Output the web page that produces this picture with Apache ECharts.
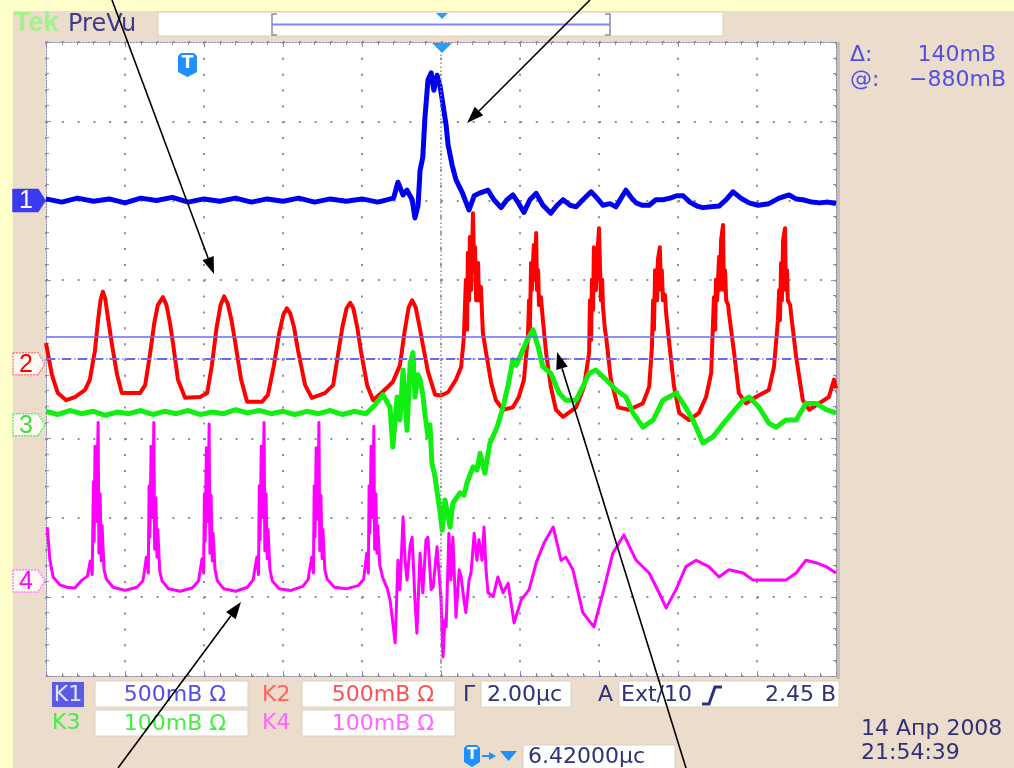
<!DOCTYPE html>
<html>
<head>
<meta charset="utf-8">
<title>Tek PreVu</title>
<script src="https://cdn.jsdelivr.net/npm/echarts@6/dist/echarts.min.js"></script>
<style>
  html, body { margin: 0; padding: 0; background: #ffffcc; }
  #chart { width: 1014px; height: 768px; }
</style>
</head>
<body>
<div id="chart"></div>
<script>
// x: time in μs (2 μs/div, trigger at 0), y: screen divisions from centre
const ch1Trace = [
  [-10.0, 2.02], [-9.6, 1.98], [-9.2, 2.03], [-8.8, 1.99], [-8.4, 2.02], [-8.0, 1.97], [-7.6, 2.03], [-7.2, 2.00],
  [-6.8, 2.04], [-6.4, 1.98], [-6.0, 2.02], [-5.6, 1.99], [-5.2, 2.03], [-4.8, 1.98], [-4.4, 2.02], [-4.0, 1.99],
  [-3.6, 2.03], [-3.2, 1.98], [-2.8, 2.02], [-2.4, 1.99], [-2.0, 2.02], [-1.6, 1.98], [-1.2, 2.03],
  [-1.09, 2.23], [-0.96, 2.07], [-0.86, 2.13], [-0.73, 2.01], [-0.66, 1.78], [-0.58, 1.94], [-0.53, 2.38],
  [-0.46, 2.55], [-0.41, 3.02], [-0.33, 3.52], [-0.25, 3.61], [-0.18, 3.39], [-0.10, 3.58], [-0.03, 3.46],
  [0.05, 3.21], [0.13, 2.95], [0.18, 2.70], [0.28, 2.45], [0.38, 2.26], [0.53, 2.11], [0.71, 1.88], [0.84, 2.06],
  [0.96, 2.09], [1.19, 2.13], [1.34, 2.01], [1.52, 1.91], [1.67, 2.01], [1.82, 2.07], [1.97, 1.96], [2.10, 1.85],
  [2.25, 2.01], [2.41, 2.09], [2.58, 1.94], [2.78, 1.84], [2.94, 1.94], [3.09, 2.01], [3.27, 1.94], [3.42, 1.92],
  [3.59, 2.01], [3.80, 2.11], [3.95, 2.03], [4.10, 1.94], [4.28, 1.96], [4.43, 1.92], [4.56, 2.03], [4.68, 2.13],
  [4.81, 2.04], [4.94, 1.97], [5.09, 1.94], [5.27, 1.94], [5.44, 2.01], [5.62, 2.01], [5.80, 2.03], [5.97, 2.06],
  [6.13, 2.06], [6.30, 1.98], [6.48, 1.93], [6.63, 1.91], [6.84, 1.92], [7.04, 1.93], [7.22, 2.01], [7.39, 2.11],
  [7.59, 2.03], [7.80, 1.97], [8.03, 1.94], [8.30, 1.96], [8.56, 2.03], [8.81, 2.07], [8.99, 2.02], [9.16, 2.01],
  [9.39, 1.98], [9.59, 1.97], [9.80, 1.98], [10.0, 1.96]
];

const ch2Trace = [
  [-10.0, 0.20], [-9.85, -0.20], [-9.70, -0.43], [-9.49, -0.52], [-9.27, -0.48], [-9.01, -0.39], [-8.89, -0.26],
  [-8.76, 0.11], [-8.68, 0.50], [-8.62, 0.74], [-8.56, 0.85], [-8.50, 0.76], [-8.44, 0.55], [-8.33, 0.18],
  [-8.20, -0.20], [-8.08, -0.43], [-7.87, -0.43], [-7.62, -0.43], [-7.49, -0.33],
  [-7.37, 0.05], [-7.26, 0.45], [-7.17, 0.68], [-7.04, 0.78], [-6.95, 0.68], [-6.86, 0.45], [-6.78, 0.18],
  [-6.66, -0.26], [-6.48, -0.49], [-6.10, -0.48], [-5.92, -0.43],
  [-5.80, -0.08], [-5.68, 0.40], [-5.58, 0.68], [-5.49, 0.79], [-5.40, 0.70], [-5.30, 0.48], [-5.22, 0.24],
  [-5.06, -0.26], [-4.91, -0.54], [-4.53, -0.54], [-4.38, -0.45],
  [-4.23, -0.08], [-4.10, 0.32], [-3.99, 0.56], [-3.90, 0.64], [-3.82, 0.58], [-3.72, 0.40], [-3.62, 0.11],
  [-3.44, -0.33], [-3.27, -0.49], [-2.94, -0.43], [-2.73, -0.33],
  [-2.61, 0.05], [-2.49, 0.42], [-2.39, 0.64], [-2.30, 0.71], [-2.22, 0.64], [-2.12, 0.40], [-2.03, 0.11],
  [-1.87, -0.33], [-1.72, -0.52], [-1.47, -0.41], [-1.22, -0.29],
  [-1.04, -0.08], [-0.92, 0.35], [-0.82, 0.65], [-0.73, 0.74], [-0.64, 0.65], [-0.54, 0.40], [-0.46, 0.18],
  [-0.33, -0.16], [-0.15, -0.45], [0.0, -0.46],
  [0.18, -0.42], [0.38, -0.26], [0.51, -0.10], [0.58, 0.28], [0.63, 1.00], [0.66, 0.37], [0.68, 1.34], [0.71, 0.74],
  [0.73, 1.54], [0.76, 0.87], [0.81, 1.84], [0.84, 1.12], [0.86, 1.41], [0.89, 0.74], [0.94, 1.21], [0.96, 0.74],
  [1.01, 0.91], [1.06, 0.33], [1.14, 0.08], [1.27, -0.30], [1.39, -0.52], [1.57, -0.64], [1.82, -0.61],
  [1.97, -0.48], [2.10, -0.26], [2.20, 0.28],
  [2.23, 0.74], [2.25, 0.37], [2.28, 1.21], [2.30, 0.87], [2.35, 1.44], [2.38, 1.00], [2.41, 1.59], [2.43, 0.87],
  [2.46, 1.12], [2.48, 0.68], [2.53, 0.78], [2.58, 0.49], [2.66, 0.08], [2.78, -0.35], [2.91, -0.64], [3.09, -0.73],
  [3.42, -0.61], [3.62, -0.35], [3.75, 0.08],
  [3.77, 0.74], [3.80, 0.24], [3.82, 1.00], [3.85, 0.62], [3.87, 1.41], [3.92, 0.87], [3.95, 1.25], [4.00, 1.65],
  [4.03, 1.09], [4.05, 0.74], [4.08, 1.00], [4.10, 0.66], [4.15, 0.37], [4.18, 0.28], [4.30, -0.26], [4.48, -0.61],
  [4.76, -0.64], [5.11, -0.56], [5.27, -0.35], [5.34, 0.15],
  [5.37, 0.74], [5.39, 0.37], [5.42, 1.12], [5.47, 0.74], [5.49, 1.25], [5.54, 1.41], [5.57, 0.87], [5.59, 1.12],
  [5.62, 0.74], [5.67, 0.81], [5.70, 0.58], [5.77, 0.24], [5.90, -0.35], [6.03, -0.68], [6.28, -0.77],
  [6.53, -0.68], [6.71, -0.48], [6.84, -0.18], [6.91, 0.78],
  [6.94, 0.37], [6.96, 1.00], [6.99, 0.74], [7.04, 1.29], [7.06, 0.87], [7.09, 1.50], [7.14, 1.69], [7.16, 0.87],
  [7.19, 1.12], [7.22, 0.74], [7.27, 0.68], [7.29, 0.58], [7.42, 0.08], [7.54, -0.43], [7.72, -0.56],
  [7.97, -0.48], [8.30, -0.39], [8.43, -0.10], [8.53, 0.49],
  [8.56, 0.87], [8.58, 0.49], [8.61, 1.21], [8.63, 0.74], [8.66, 1.50], [8.71, 1.65], [8.73, 0.87], [8.76, 1.12],
  [8.78, 0.74], [8.84, 0.68], [8.86, 0.58], [8.99, 0.03], [9.16, -0.52], [9.32, -0.64], [9.57, -0.56],
  [9.82, -0.48], [9.95, -0.26], [10.0, -0.37]
];

const ch3Trace = [
  [-10.0, -0.66], [-9.7, -0.70], [-9.4, -0.65], [-9.1, -0.69], [-8.8, -0.66], [-8.5, -0.71], [-8.2, -0.67],
  [-7.9, -0.69], [-7.6, -0.65], [-7.3, -0.70], [-7.0, -0.66], [-6.7, -0.69], [-6.4, -0.65], [-6.1, -0.70],
  [-5.8, -0.67], [-5.5, -0.69], [-5.2, -0.64], [-4.9, -0.68], [-4.6, -0.65], [-4.3, -0.69], [-4.0, -0.66],
  [-3.7, -0.70], [-3.4, -0.66], [-3.1, -0.69], [-2.8, -0.65], [-2.5, -0.70], [-2.2, -0.66], [-1.9, -0.69],
  [-1.67, -0.58], [-1.47, -0.45], [-1.29, -0.61], [-1.22, -1.11], [-1.11, -0.48], [-1.04, -0.77], [-0.96, -0.14],
  [-0.91, -0.52], [-0.86, -0.90], [-0.78, -0.05], [-0.71, 0.08], [-0.66, -0.48], [-0.58, -0.20], [-0.53, -0.26],
  [-0.46, -0.45], [-0.41, -0.68], [-0.33, -0.98], [-0.28, -0.83], [-0.23, -1.31], [-0.15, -1.49], [-0.08, -1.74],
  [-0.03, -1.91], [0.03, -2.16], [0.10, -1.78], [0.23, -2.12], [0.30, -1.82], [0.48, -1.69], [0.58, -1.72],
  [0.66, -1.56], [0.81, -1.36], [0.91, -1.40], [0.99, -1.19], [1.11, -1.44], [1.24, -1.06], [1.42, -0.86],
  [1.57, -0.61], [1.70, -0.33], [1.82, -0.01], [1.90, -0.08], [2.00, 0.03], [2.18, 0.24], [2.33, 0.37],
  [2.46, 0.15], [2.58, -0.10], [2.78, -0.18], [2.99, -0.43], [3.16, -0.52], [3.42, -0.52], [3.59, -0.35],
  [3.75, -0.18], [3.92, -0.14], [4.18, -0.26], [4.43, -0.39], [4.68, -0.48], [4.86, -0.68], [5.11, -0.86],
  [5.37, -0.77], [5.62, -0.52], [5.95, -0.43], [6.13, -0.56], [6.38, -0.77], [6.63, -1.06], [6.89, -0.98],
  [7.22, -0.77], [7.65, -0.52], [7.80, -0.48], [8.05, -0.61], [8.30, -0.81], [8.48, -0.86], [8.73, -0.77],
  [8.99, -0.77], [9.24, -0.56], [9.49, -0.56], [9.75, -0.64], [10.0, -0.68]
];

const ch4Trace = [
  [-9.97, -2.12], [-9.90, -2.54], [-9.82, -2.75], [-9.65, -2.85], [-9.47, -2.88], [-9.27, -2.89], [-9.09, -2.79],
  [-8.95, -2.74], [-8.88, -2.55], [-8.83, -2.72], [-8.80, -1.55], [-8.78, -2.30], [-8.76, -1.10], [-8.73, -2.05],
  [-8.71, -1.60], [-8.68, -0.80], [-8.66, -2.45], [-8.63, -1.70], [-8.60, -2.55], [-8.58, -2.10], [-8.53, -2.66],
  [-8.47, -2.78], [-8.30, -2.88], [-8.00, -2.92], [-7.70, -2.88], [-7.55, -2.80],
  [-7.52, -2.72], [-7.46, -2.50], [-7.41, -2.70], [-7.39, -1.60], [-7.37, -2.25], [-7.34, -1.10], [-7.32, -2.00],
  [-7.29, -1.55], [-7.27, -0.80], [-7.25, -2.40], [-7.22, -1.75], [-7.19, -2.50], [-7.17, -2.15], [-7.12, -2.68],
  [-7.06, -2.80], [-6.90, -2.90], [-6.60, -2.93], [-6.30, -2.89], [-6.14, -2.80],
  [-6.12, -2.74], [-6.05, -2.52], [-6.01, -2.70], [-5.99, -1.70], [-5.97, -2.30], [-5.94, -1.12], [-5.92, -2.05],
  [-5.89, -1.60], [-5.87, -0.82], [-5.85, -2.45], [-5.82, -1.72], [-5.79, -2.55], [-5.77, -2.20], [-5.72, -2.66],
  [-5.66, -2.80], [-5.50, -2.90], [-5.20, -2.93], [-4.90, -2.88], [-4.75, -2.78],
  [-4.73, -2.70], [-4.66, -2.50], [-4.62, -2.72], [-4.60, -1.60], [-4.58, -2.28], [-4.55, -1.10], [-4.53, -2.00],
  [-4.50, -1.55], [-4.48, -0.80], [-4.46, -2.42], [-4.43, -1.70], [-4.40, -2.52], [-4.38, -2.15], [-4.33, -2.66],
  [-4.27, -2.80], [-4.10, -2.90], [-3.80, -2.92], [-3.50, -2.87], [-3.36, -2.78],
  [-3.34, -2.70], [-3.27, -2.50], [-3.23, -2.70], [-3.21, -1.60], [-3.19, -2.25], [-3.16, -1.12], [-3.14, -2.02],
  [-3.11, -1.55], [-3.09, -0.80], [-3.07, -2.42], [-3.04, -1.72], [-3.01, -2.52], [-2.99, -2.15], [-2.94, -2.66],
  [-2.88, -2.78], [-2.70, -2.88], [-2.40, -2.90], [-2.10, -2.86], [-1.96, -2.78],
  [-1.94, -2.70], [-1.88, -2.45], [-1.84, -2.70], [-1.82, -1.60], [-1.80, -2.20], [-1.77, -1.10], [-1.75, -2.00],
  [-1.72, -1.55], [-1.70, -0.85], [-1.68, -2.40], [-1.65, -1.70], [-1.62, -2.45], [-1.60, -2.10], [-1.55, -2.60],
  [-1.48, -2.75], [-1.40, -2.85],
  [-1.37, -2.88], [-1.29, -3.04], [-1.16, -3.58], [-1.09, -2.54], [-1.04, -2.91], [-0.96, -1.99], [-0.91, -2.54],
  [-0.86, -2.79], [-0.78, -2.35], [-0.73, -2.25], [-0.66, -3.04], [-0.61, -3.46], [-0.53, -2.45], [-0.46, -2.95],
  [-0.38, -2.28], [-0.33, -2.25], [-0.25, -2.91], [-0.20, -2.88], [-0.10, -2.37], [-0.05, -2.70], [0.0, -3.04],
  [0.05, -3.76], [0.10, -3.29], [0.13, -3.38], [0.20, -2.20], [0.25, -2.79], [0.30, -2.25], [0.38, -3.26],
  [0.46, -2.66], [0.51, -2.75], [0.58, -3.04], [0.63, -3.20], [0.71, -2.79], [0.76, -2.70], [0.84, -2.20],
  [0.91, -2.54], [0.96, -2.28], [1.04, -2.54], [1.09, -2.12], [1.14, -2.66], [1.19, -2.95], [1.32, -3.00],
  [1.44, -2.75], [1.57, -2.95], [1.70, -2.83], [1.85, -3.33], [2.03, -3.04], [2.23, -2.91], [2.41, -2.57],
  [2.61, -2.32], [2.84, -2.12], [3.04, -2.54], [3.16, -2.50], [3.34, -2.66], [3.59, -3.20], [3.87, -3.38],
  [4.10, -2.95], [4.35, -2.45], [4.63, -2.22], [4.94, -2.54], [5.27, -2.70], [5.52, -2.95], [5.70, -3.14],
  [5.95, -2.91], [6.20, -2.62], [6.46, -2.54], [6.78, -2.62], [7.04, -2.75], [7.29, -2.66], [7.65, -2.70],
  [7.90, -2.79], [8.30, -2.79], [8.73, -2.79], [8.99, -2.70], [9.24, -2.54], [9.49, -2.57], [9.75, -2.62],
  [10.0, -2.70]
];

const channelLabels = ['1', '2', '3', '4'];
const channelColors = ['#0000f0', '#ff0000', '#11ee11', '#ff00ff'];
const channelOffsets = [2.0, -0.06, -0.83, -2.80];
const cursorLevels = [0.28, 0];

const gridColor = '#8c8ca8';
const navy = '#303078';
const font = '"DejaVu Sans", sans-serif';

const chart = echarts.init(document.getElementById('chart'));

function trace(data, color, width) {
  return {
    type: 'line', data: data, showSymbol: false, symbol: 'none', silent: true,
    lineStyle: { color: color, width: width, join: 'round' }
  };
}

function frameAxis(position, isX) {
  return {
    type: 'value', position: position,
    min: isX ? -10 : -4, max: isX ? 10 : 4, interval: isX ? 2 : 1,
    axisLabel: { show: false },
    axisLine: { show: true, onZero: false, lineStyle: { color: gridColor, width: 1, type: [1.5, 1.5] } },
    axisTick: { show: true, inside: true, length: 5, lineStyle: { color: gridColor } },
    minorTick: { show: true, splitNumber: 5, length: 3, lineStyle: { color: gridColor } },
    splitLine: {
      show: position === 'bottom' || position === 'left',
      lineStyle: { color: gridColor, width: 2, type: isX ? [2, 13.85] : [2, 13.8] }
    }
  };
}

chart.setOption({
  animation: false,
  backgroundColor: '#ffffcc',
  grid: { left: 46, top: 42, width: 790, height: 634, show: true, backgroundColor: '#ffffff', borderWidth: 0, outerBoundsMode: 'none' },
  xAxis: [frameAxis('bottom', true), frameAxis('top', true)],
  yAxis: [frameAxis('left', false), frameAxis('right', false)],
  series: [
    {
      type: 'line', data: [], silent: true,
      markLine: {
        symbol: 'none', silent: true, animation: false, label: { show: false },
        data: [
          { xAxis: 0, lineStyle: { color: gridColor, width: 1.5, type: [1.5, 2.5] } },
          { yAxis: 0, lineStyle: { color: gridColor, width: 1.5, type: [1.5, 2.5] } }
        ]
      }
    },
    trace(ch1Trace, channelColors[0], 5),
    trace(ch2Trace, channelColors[1], 4),
    trace(ch3Trace, channelColors[2], 5),
    trace(ch4Trace, channelColors[3], 3),
    {
      type: 'line', data: [], silent: true,
      markLine: {
        symbol: 'none', silent: true, animation: false, label: { show: false },
        data: [
          { yAxis: cursorLevels[0], lineStyle: { color: '#6a6af2', width: 1.5, type: 'solid' } },
          { yAxis: cursorLevels[1], lineStyle: { color: '#6a6af2', width: 2, type: [9, 7] } }
        ]
      }
    }
  ]
});

// ---- instrument chrome drawn with graphic elements ----
function txt(x, y, text, color, size, opts) {
  opts = opts || {};
  return {
    type: 'text', x: x, y: y, z: 50,
    style: {
      text: text, fill: color, font: (opts.weight || 'normal') + ' ' + size + 'px ' + (opts.family || font),
      align: opts.align || 'left', verticalAlign: 'middle'
    }
  };
}

function box(x, y, w, h) {
  return { type: 'rect', z: 40, shape: { x: x, y: y, width: w, height: h }, style: { fill: '#ffffff', stroke: '#ddd0bc', lineWidth: 1 } };
}

function badge(x, y, w, h) {
  return {
    type: 'group', x: x, y: y, z: 60,
    children: [
      { type: 'polygon', shape: { points: [[0, 3], [3, 0], [w - 3, 0], [w, 3], [w, h - 5], [w / 2, h], [0, h - 5]] }, style: { fill: '#1e8fff' } },
      { type: 'text', x: w / 2, y: h / 2 - 1, style: { text: 'T', fill: '#ffffff', font: 'bold ' + Math.round(h * 0.7) + 'px ' + font, align: 'center', verticalAlign: 'middle' } }
    ]
  };
}

function arrow(x1, y1, x2, y2) {
  const ang = Math.atan2(y2 - y1, x2 - x1);
  const len = 17, half = 6;
  const bx = x2 - len * Math.cos(ang), by = y2 - len * Math.sin(ang);
  const px = -Math.sin(ang) * half, py = Math.cos(ang) * half;
  return [
    { type: 'line', z: 90, shape: { x1: x1, y1: y1, x2: bx, y2: by }, style: { stroke: '#000', lineWidth: 1.6 } },
    { type: 'polygon', z: 90, shape: { points: [[x2, y2], [bx + px, by + py], [bx - px, by - py]] }, style: { fill: '#000' } }
  ];
}

function chanTab(i) {
  const py = chart.convertToPixel({ yAxisIndex: 0 }, channelOffsets[i]);
  const filled = i === 0;
  const c = channelColors[i];
  const soft = ['#3a3af0', '#ff8080', '#60f060', '#ff80ff'][i];
  return {
    type: 'group', x: 13, y: py, z: 60,
    children: [
      {
        type: 'polygon', shape: { points: [[0, -11], [25, -11], [32, 0], [25, 11], [0, 11]] },
        style: { fill: filled ? soft : '#fffaf4', stroke: soft, lineWidth: 1.5, lineDash: filled ? null : [2, 1] }
      },
      { type: 'text', x: 13, y: 1, style: { text: channelLabels[i], fill: filled ? '#ffffff' : (i === 2 ? '#44dd44' : c), font: '25px "Liberation Sans", sans-serif', align: 'center', verticalAlign: 'middle' } }
    ]
  };
}

const graphic = [
  { type: 'rect', z: -100, shape: { x: 13, y: 11, width: 1001, height: 757 }, style: { fill: '#ecdccb' } },
  { type: 'rect', z: -90, shape: { x: 836, y: 42, width: 4, height: 637 }, style: { fill: '#c9beb2' } },

  // header
  txt(14, 24, 'Tek', '#a4f08c', 27, { weight: 'bold', family: '"Liberation Sans", sans-serif' }),
  txt(68, 25, 'PreVu', '#3c3c8c', 24),
  box(158, 12, 565, 24),
  { type: 'polyline', z: 45, shape: { points: [[277, 14], [272, 14], [272, 35], [277, 35]] }, style: { stroke: '#8a8aa8', lineWidth: 1.5, fill: null } },
  { type: 'polyline', z: 45, shape: { points: [[605, 14], [610, 14], [610, 35], [605, 35]] }, style: { stroke: '#8a8aa8', lineWidth: 1.5, fill: null } },
  { type: 'line', z: 45, shape: { x1: 272, y1: 24.5, x2: 610, y2: 24.5 }, style: { stroke: '#8484ff', lineWidth: 2 } },
  badge(326, 14, 15, 22),
  { type: 'polygon', z: 60, shape: { points: [[436, 13], [448, 13], [442, 19]] }, style: { fill: '#2a9df4' } },
  { type: 'polygon', z: 60, shape: { points: [[432, 43], [452, 43], [442, 53]] }, style: { fill: '#2a9df4' } },
  badge(178, 53, 19, 24),

  // cursor readout
  txt(850, 55, 'Δ:', '#5050e6', 22),
  txt(996, 55, '140mB', '#5050e6', 22, { align: 'right' }),
  txt(850, 80, '@:', '#5050e6', 22),
  txt(1006, 80, '−880mB', '#5050e6', 22, { align: 'right' }),

  // channel readouts
  { type: 'rect', z: 40, shape: { x: 52, y: 682, width: 32, height: 25 }, style: { fill: '#5a5ae6' } },
  txt(68, 695, 'K1', '#e4e4ff', 22, { align: 'center' }),
  box(95, 681, 153, 26), txt(175, 695, '500mB Ω', '#5050e6', 22, { align: 'center' }),
  txt(262, 695, 'K2', '#ff6060', 22),
  box(302, 681, 153, 26), txt(383, 695, '500mB Ω', '#ff5050', 22, { align: 'center' }),
  txt(52, 723, 'K3', '#44ee44', 22),
  box(95, 710, 153, 26), txt(175, 724, '100mB Ω', '#44ee44', 22, { align: 'center' }),
  txt(262, 723, 'K4', '#ff66ff', 22),
  box(302, 710, 153, 26), txt(383, 724, '100mB Ω', '#ff66ff', 22, { align: 'center' }),

  // timebase / trigger
  txt(463, 695, 'Г', navy, 22),
  box(481, 681, 90, 26), txt(487, 695, '2.00μс', navy, 22),
  txt(598, 695, 'A', navy, 22),
  box(619, 681, 220, 26), txt(621, 695, 'Ext/10', navy, 22),
  { type: 'polyline', z: 55, shape: { points: [[702, 704], [709, 704], [715, 687], [722, 687]] }, style: { stroke: navy, lineWidth: 3, fill: null } },
  txt(836, 695, '2.45 В', navy, 22, { align: 'right' }),

  badge(464, 745, 16, 22),
  { type: 'line', z: 60, shape: { x1: 482, y1: 756, x2: 492, y2: 756 }, style: { stroke: '#1e8fff', lineWidth: 2 } },
  { type: 'polygon', z: 60, shape: { points: [[496, 756], [489, 752], [489, 760]] }, style: { fill: '#1e8fff' } },
  { type: 'polygon', z: 60, shape: { points: [[500, 751], [517, 751], [508.5, 761]] }, style: { fill: '#1e8fff' } },
  box(523, 745, 152, 26), txt(528, 757, '6.42000μс', navy, 22),

  txt(861, 729, '14 Апр 2008', navy, 22),
  txt(861, 753, '21:54:39', navy, 22)
];

for (let i = 0; i < 4; i++) graphic.push(chanTab(i));
[[112, 0, 214, 274], [590, 0, 467, 123], [118, 768, 241, 602], [686, 768, 557, 352]].forEach(function (a) {
  arrow(a[0], a[1], a[2], a[3]).forEach(function (g) { graphic.push(g); });
});

chart.setOption({ graphic: graphic });
</script>
</body>
</html>
